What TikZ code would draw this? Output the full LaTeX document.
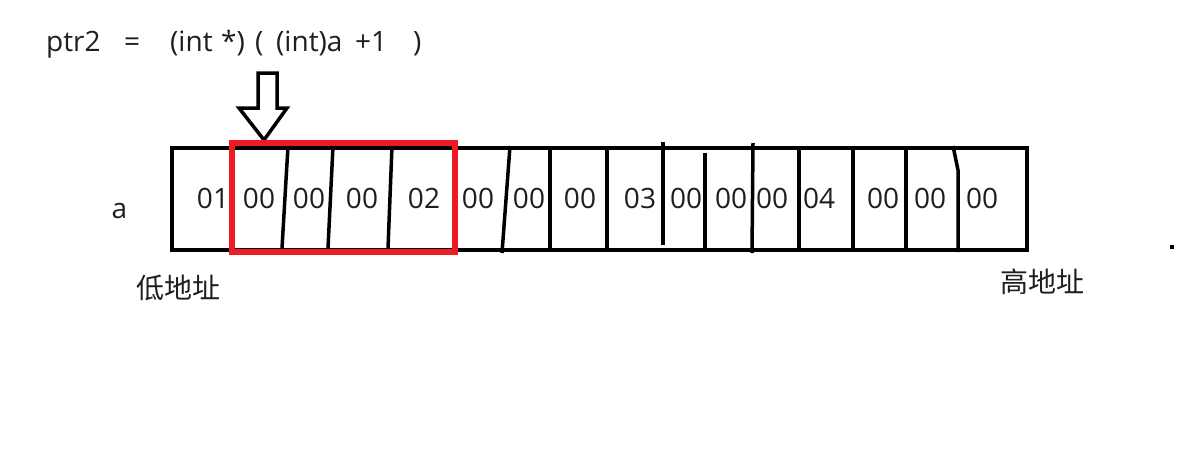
\documentclass[tikz,border=0pt]{standalone}
\usepackage{fontspec}
\setmainfont{Open Sans}
\newfontfamily\cjk{Noto Sans CJK SC}
\definecolor{txt}{HTML}{1E1E1E}
\definecolor{hl}{HTML}{ED1C24}
\begin{document}
\begin{tikzpicture}[x=1pt,y=-1pt,
  cell/.style={font=\fontsize{28}{28}\selectfont, text=txt, inner sep=0pt, anchor=base},
  lbl/.style={font=\fontsize{28}{28}\selectfont, text=txt, inner sep=0pt, anchor=base west},
  cjklbl/.style={font=\cjk\fontsize{28}{28}\selectfont, text=txt, inner sep=0pt},
  divider/.style={line width=3.5pt, black},
  hollowarrow/.style={line width=3.5pt, black, line join=miter}]
\useasboundingbox (0,0) rectangle (1193,456);
% formula
\node[lbl] (ptr) at (46,51) {ptr2};
\node[lbl] (eq) at (124,51) {=};
\node[lbl] (f1) at (170,51) {(int};
\node[lbl] (f2) at (221,51) {*)};
\node[lbl] (f3) at (255,51) {(};
\node[lbl] (f4) at (276,51) {(int)a};
\node[lbl] (f5) at (355,51) {+1};
\node[lbl] (close) at (413,51) {)};
% hollow arrow
\draw[hollowarrow] (258,73) -- (277,73) -- (277,108) -- (287,108) -- (264,140) -- (239,108) -- (258,108) -- cycle;
% memory box
\node[draw, line width=4pt, minimum width=855pt, minimum height=102pt, anchor=north west, inner sep=0pt] (mem) at (170,146) {};
% dividers
\draw[divider] (288,146) -- (282,248);
\draw[divider] (333,146) -- (328,248);
\draw[divider] (392,146) -- (388,248);
\draw[divider] (510,146) -- (502,253);
\draw[divider] (550,146) -- (550,248);
\draw[divider] (607,146) -- (607,248);
\draw[divider] (663,142) -- (663,245);
\draw[divider] (705,153) -- (705,248);
\draw[divider] (753,143) -- (752,253);
\draw[divider] (799,146) -- (799,252);
\draw[divider] (853,146) -- (853,252);
\draw[divider] (906,146) -- (906,252);
\draw[divider] (953,146) -- (958,170) -- (958,252);
% red highlight
\draw[hl, line width=6pt] (232,143) rectangle (455,252);
% cell values
\node[cell] (c1) at (213,208) {01};
\node[cell] (c2) at (259,208) {00};
\node[cell] (c3) at (309,208) {00};
\node[cell] (c4) at (362,208) {00};
\node[cell] (c5) at (424,208) {02};
\node[cell] (c6) at (478,208) {00};
\node[cell] (c7) at (529,208) {00};
\node[cell] (c8) at (580,208) {00};
\node[cell] (c9) at (640,208) {03};
\node[cell] (c10) at (686,208) {00};
\node[cell] (c11) at (731,208) {00};
\node[cell] (c12) at (772,208) {00};
\node[cell] (c13) at (819,208) {04};
\node[cell] (c14) at (883,208) {00};
\node[cell] (c15) at (930,208) {00};
\node[cell] (c16) at (982,208) {00};
% labels
\node[cell] (a) at (119.5,218) {a};
\node[cjklbl] (low) at (178,288) {低地址};
\node[cjklbl] (high) at (1042,282) {高地址};
\fill[black] (1170,245) rectangle (1174,249);
\end{tikzpicture}
\end{document}
